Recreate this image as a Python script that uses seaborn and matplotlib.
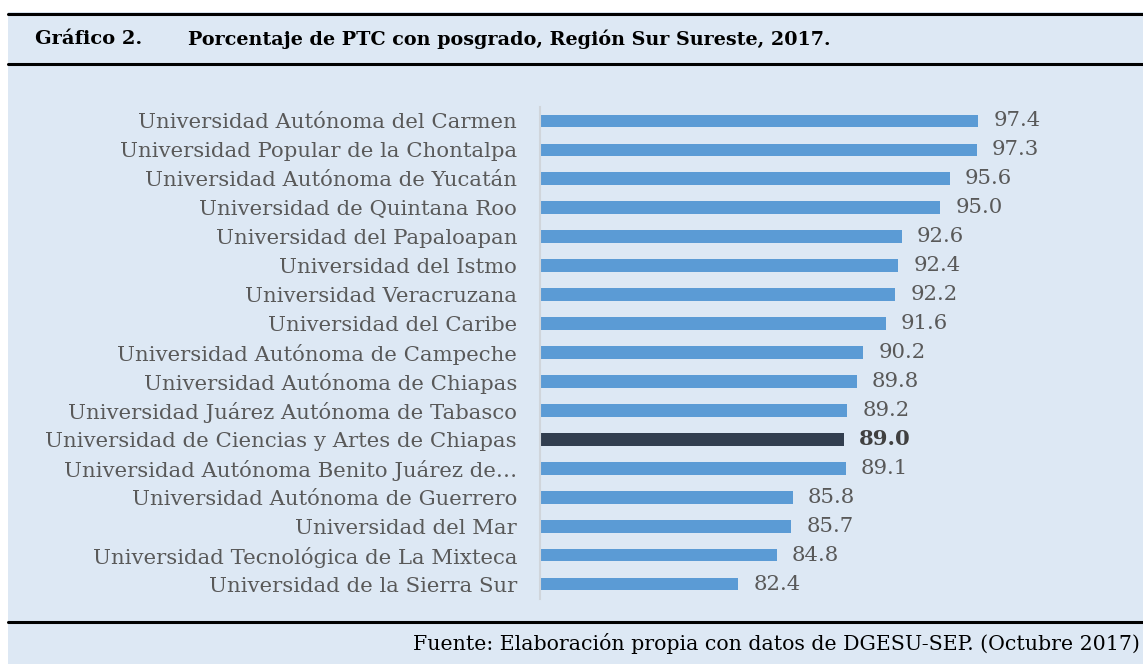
import matplotlib
matplotlib.use("Agg")
import matplotlib.pyplot as plt
import seaborn as sns
import pandas as pd
from matplotlib.patches import Rectangle
from matplotlib.lines import Line2D

# =====================================================
# DATA
# =====================================================

universidades = [
    "Universidad Autónoma del Carmen",
    "Universidad Popular de la Chontalpa",
    "Universidad Autónoma de Yucatán",
    "Universidad de Quintana Roo",
    "Universidad del Papaloapan",
    "Universidad del Istmo",
    "Universidad Veracruzana",
    "Universidad del Caribe",
    "Universidad Autónoma de Campeche",
    "Universidad Autónoma de Chiapas",
    "Universidad Juárez Autónoma de Tabasco",
    "Universidad de Ciencias y Artes de Chiapas",
    "Universidad Autónoma Benito Juárez de…",
    "Universidad Autónoma de Guerrero",
    "Universidad del Mar",
    "Universidad Tecnológica de La Mixteca",
    "Universidad de la Sierra Sur",
]

porcentajes = [97.4, 97.3, 95.6, 95.0, 92.6, 92.4, 92.2, 91.6, 90.2,
               89.8, 89.2, 89.0, 89.1, 85.8, 85.7, 84.8, 82.4]

destacada = "Universidad de Ciencias y Artes de Chiapas"

# =====================================================
# STYLE
# =====================================================

BG = "#dde8f4"
BAR = "#5b9bd5"
DARK = "#323e4f"
GREY = "#595959"

sns.set_theme(style="white")
plt.rcParams["font.family"] = ["DejaVu Serif"]

df = pd.DataFrame({"Universidad": universidades, "Porcentaje": porcentajes})

palette = {u: (DARK if u == destacada else BAR) for u in universidades}

fig = plt.figure(figsize=(11.43, 6.64), dpi=100)
fig.patch.set_facecolor("white")

W, H = 1143, 664

# background panel
fig.patches.append(Rectangle((8 / W, 0), 1 - 8 / W, 1 - 12 / H,
                             transform=fig.transFigure, facecolor=BG,
                             edgecolor="none", zorder=-5))

for ypix in [14, 64, 622]:
    fig.lines.append(Line2D([8 / W, 1], [1 - ypix / H, 1 - ypix / H],
                            transform=fig.transFigure, color="black",
                            linewidth=2.2, zorder=-4))

ax = fig.add_axes([540 / W, 1 - 598.5 / H, 480 / W, 492 / H])
ax.set_facecolor("none")
ax.set_zorder(2)

sns.barplot(
    data=df,
    x="Porcentaje",
    y="Universidad",
    hue="Universidad",
    palette=palette,
    saturation=1,
    linewidth=0,
    legend=False,
    width=0.44,
    orient="h",
    ax=ax,
)

ax.set_xlim(70, 100)
ax.set_ylim(len(universidades) - 0.5, -0.5)
ax.set_xlabel("")
ax.set_ylabel("")
ax.set_xticks([])

for s in ["top", "right", "bottom"]:
    ax.spines[s].set_visible(False)
ax.spines["left"].set_color("#d0d5db")
ax.spines["left"].set_linewidth(1.5)

ax.tick_params(axis="y", length=0, pad=16.5, labelsize=15.3, labelcolor=GREY)

for i, (u, v) in enumerate(zip(universidades, porcentajes)):
    bold = u == destacada
    ax.text(v + 0.95, i, f"{v:.1f}", va="center", ha="left",
            fontsize=15.3, color=GREY if not bold else "#404040",
            fontweight="bold" if bold else "normal")

# title and source
fig.text(35 / W, 1 - 39 / H, "Gráfico 2.", fontsize=14, fontweight="bold",
         color="black", va="center", ha="left")
fig.text(188 / W, 1 - 39 / H,
         "Porcentaje de PTC con posgrado, Región Sur Sureste, 2017.",
         fontsize=13.8, fontweight="bold", color="black", va="center", ha="left")
fig.text(1140 / W, 1 - 644 / H,
         "Fuente: Elaboración propia con datos de DGESU-SEP. (Octubre 2017)",
         fontsize=14.8, color="black", va="center", ha="right")

fig.savefig("out.png", dpi=100)
